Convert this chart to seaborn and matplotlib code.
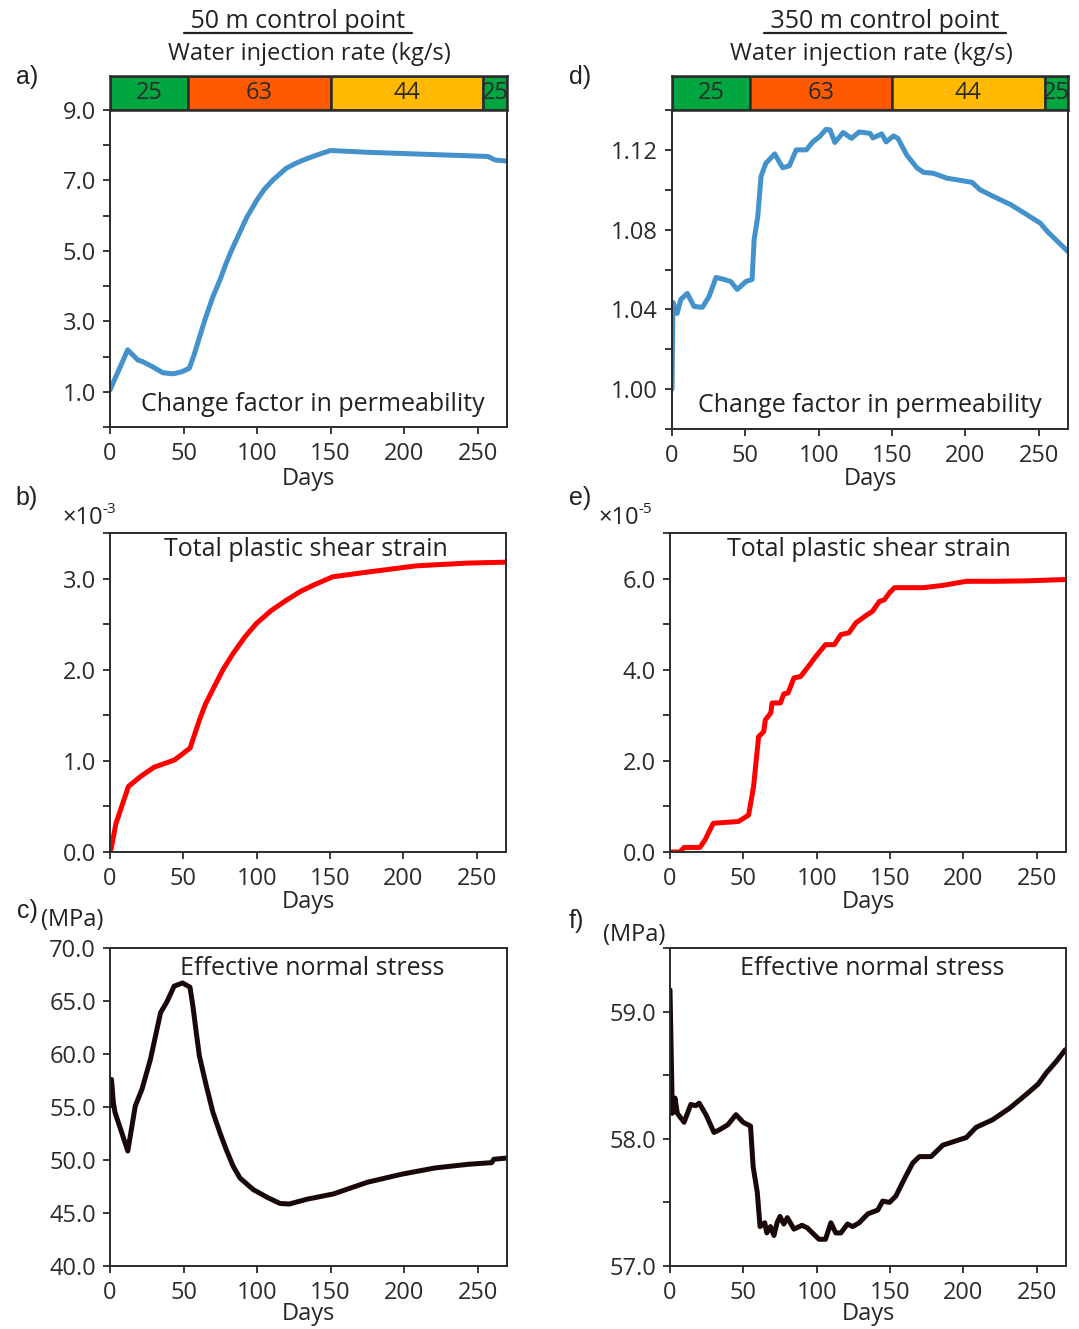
import matplotlib
matplotlib.use("Agg")
import matplotlib.pyplot as plt
import seaborn as sns
from matplotlib.lines import Line2D
from matplotlib.ticker import FixedLocator, FormatStrFormatter

# ---------------------------------------------------------------- data
# injection schedule (days) and rate (kg/s)
seg_start = [0, 53, 150, 254]
seg_end = [53, 150, 254, 270]
seg_rate = [25, 63, 44, 25]
seg_color = ["#00a640", "#ff5a00", "#ffb900", "#00a640"]

# 50 m control point
days_a = [0, 2.5, 7, 12, 19, 22, 29, 36, 43, 49, 54, 57.5, 61, 65, 70, 75, 79, 83,
          88, 93, 100, 105, 111, 120, 127, 134, 142, 150, 175, 209, 244, 257, 262, 270]
perm_a = [1.05, 1.29, 1.71, 2.19, 1.90, 1.86, 1.71, 1.54, 1.51, 1.57, 1.67, 2.09,
          2.57, 3.10, 3.70, 4.20, 4.65, 5.05, 5.50, 5.95, 6.45, 6.75, 7.02, 7.35,
          7.50, 7.62, 7.74, 7.85, 7.80, 7.75, 7.70, 7.68, 7.58, 7.55]

days_b = [0, 1, 4, 12.6, 21, 30, 44, 54.6, 61, 65, 70, 77, 84, 92, 100, 110, 120, 130,
          139, 152, 175, 209, 244, 270]
strain_b = [0.0, 0.05, 0.31, 0.72, 0.83, 0.93, 1.01, 1.14, 1.45, 1.62, 1.78, 2.00,
            2.18, 2.36, 2.51, 2.65, 2.76, 2.86, 2.93, 3.02, 3.07, 3.14, 3.17, 3.18]  # x 1e-3

days_c = [0, 1, 2.3, 3.4, 12.1, 17.2, 21.8, 27.5, 34.4, 39, 43.6, 49.4, 54.4, 56.4,
          58.7, 60.8, 65.5, 70, 74.7, 79, 83.8, 88.4, 97.5, 106.6, 115.6, 122, 134,
          152, 175, 198, 221, 244, 259.6, 261, 271]
stress_c = [55.1, 57.6, 55.4, 54.5, 50.85, 55.1, 56.7, 59.5, 63.9, 65.0, 66.4, 66.7,
            66.3, 64.5, 62.0, 59.8, 57.0, 54.5, 52.6, 51.0, 49.4, 48.3, 47.2, 46.5,
            45.9, 45.85, 46.3, 46.8, 47.9, 48.65, 49.25, 49.6, 49.75, 50.07, 50.2]  # MPa

# 350 m control point
days_d = [0, 0.7, 3.5, 6, 10.4, 15, 20.7, 25.3, 30, 35.6, 40, 44.5, 50.4, 54.6, 56,
          58.5, 60.7, 64, 70, 75.5, 80, 84.7, 91.6, 96, 100.7, 105, 107.8, 111, 116.7,
          122.4, 127.6, 135, 137, 143, 146, 151, 154, 160, 167, 171.5, 178, 187.5,
          196.6, 204.6, 210, 219, 231, 242, 251, 256, 263, 270]
perm_d = [1.000, 1.0435, 1.038, 1.045, 1.048, 1.0415, 1.041, 1.0465, 1.056, 1.055,
          1.054, 1.050, 1.054, 1.055, 1.075, 1.0867, 1.1067, 1.1133, 1.118, 1.111,
          1.112, 1.120, 1.120, 1.124, 1.1267, 1.1303, 1.130, 1.1237, 1.1287, 1.1258,
          1.129, 1.1283, 1.126, 1.128, 1.124, 1.127, 1.1258, 1.1175, 1.111, 1.1087,
          1.1083, 1.1058, 1.1047, 1.1037, 1.100, 1.0967, 1.0925, 1.0875, 1.0833,
          1.079, 1.074, 1.069]

days_e = [0, 6.7, 9.6, 20.4, 23.8, 29.5, 46.7, 53.6, 57, 60.4, 63.9, 65, 68.7, 69.6,
          75.3, 77.6, 80.5, 84.5, 89, 93.6, 99.4, 106, 112, 116.5, 122, 126.8, 133.7,
          138, 142.8, 146, 149.7, 153, 172.6, 186, 202, 220.7, 243.6, 270]
strain_e = [0.0, 0.0, 0.10, 0.10, 0.26, 0.63, 0.67, 0.81, 1.44, 2.53, 2.64, 2.90,
            3.05, 3.27, 3.27, 3.47, 3.49, 3.82, 3.85, 4.04, 4.29, 4.55, 4.55, 4.77,
            4.81, 5.03, 5.19, 5.28, 5.50, 5.53, 5.69, 5.80, 5.80, 5.85, 5.94, 5.94,
            5.95, 5.98]   # x 1e-5

days_f = [0, 1.6, 3.4, 5, 9.6, 14.2, 17.5, 19.9, 24.5, 30, 33.6, 39.4, 45, 49.8, 54.9,
          56.7, 59.5, 61.4, 64.6, 66, 68.5, 70.9, 73, 75, 77.6, 80, 84.5, 90, 93.6, 98,
          101.6, 106, 109.7, 113, 116.5, 121, 124.5, 129, 134.9, 141.7, 145, 149.7,
          154, 159.6, 165.5, 170, 178, 186, 194, 202, 208.7, 220, 231.5, 243, 251,
          256.7, 263.5, 269.5]
stress_f = [59.17, 58.20, 58.32, 58.20, 58.13, 58.27, 58.26, 58.28, 58.19, 58.05,
            58.07, 58.11, 58.19, 58.13, 58.10, 57.78, 57.58, 57.31, 57.34, 57.26,
            57.31, 57.24, 57.34, 57.39, 57.33, 57.38, 57.29, 57.32, 57.30, 57.25,
            57.21, 57.21, 57.34, 57.26, 57.26, 57.33, 57.31, 57.34, 57.41, 57.44,
            57.51, 57.50, 57.55, 57.68, 57.81, 57.86, 57.86, 57.95, 57.98, 58.01,
            58.09, 58.15, 58.24, 58.35, 58.43, 58.52, 58.61, 58.70]   # MPa

x_ticks = [0, 50, 100, 150, 200, 250]

# ---------------------------------------------------------------- style
sns.set_style("ticks")
plt.rcParams["font.family"] = ["Open Sans", "DejaVu Sans"]
plt.rcParams["axes.edgecolor"] = "#2b2b2b"
plt.rcParams["axes.linewidth"] = 1.4
plt.rcParams["xtick.color"] = "#2b2b2b"
plt.rcParams["ytick.color"] = "#2b2b2b"
plt.rcParams["text.color"] = "#222222"

FS = 17
W, H, DPI = 1079, 1329, 100
fig = plt.figure(figsize=(W / DPI, H / DPI), dpi=DPI)
fig.patch.set_facecolor("white")


def add_axes_px(left, top, right, bottom):
    return fig.add_axes([left / W, 1 - bottom / H, (right - left) / W, (bottom - top) / H])


def style_axes(ax, ylim, major, minor, fmt, xpad):
    ax.set_xlim(0, 270)
    ax.set_ylim(*ylim)
    ax.set_xticks(x_ticks)
    ax.yaxis.set_major_locator(FixedLocator(major))
    ax.yaxis.set_minor_locator(FixedLocator(minor))
    ax.yaxis.set_major_formatter(FormatStrFormatter(fmt))
    ax.tick_params(which="both", direction="out", length=5, width=1.3, labelsize=FS)
    ax.tick_params(axis="x", pad=6)
    ax.tick_params(axis="y", pad=5)
    ax.set_xlabel("Days", fontsize=FS, labelpad=xpad)
    ax.set_ylabel("")
    for s in ax.spines.values():
        s.set_visible(True)
        s.set_color("#2b2b2b")


def draw_schedule(ax_main, left, right):
    pos = ax_main.get_position()
    ax = add_axes_px(left, 76, right, (1 - pos.y1) * H)
    widths = [e - s for s, e in zip(seg_start, seg_end)]
    ax.barh([0] * len(seg_rate), widths, left=seg_start, height=1.0,
            color=seg_color, edgecolor="#2b2b2b", linewidth=1.8)
    for s, e, r in zip(seg_start, seg_end, seg_rate):
        ax.text((s + e) / 2, 0, str(r), ha="center", va="center",
                fontsize=FS, color="#2b2b2b", clip_on=True)
    ax.set_xlim(0, 270)
    ax.set_ylim(-0.5, 0.5)
    ax.set_xticks([])
    ax.set_yticks([])
    for s in ax.spines.values():
        s.set_linewidth(1.8)
        s.set_color("#2b2b2b")
    return ax


BLUE, RED, DARK = "#4392cb", "#ff0000", "#1a0808"
LW = 3.6

# ---------------------------------------------------------------- a)
ax_a = add_axes_px(110, 110, 507, 427)
sns.lineplot(x=days_a, y=perm_a, ax=ax_a, color=BLUE, linewidth=LW, sort=False)
style_axes(ax_a, (0, 9), [1, 3, 5, 7, 9], [0, 2, 4, 6, 8], "%.1f", 0.5)
ax_a.text(0.51, 0.07, "Change factor in permeability", transform=ax_a.transAxes,
          ha="center", va="center", fontsize=FS + 1)
draw_schedule(ax_a, 110, 507)

# ---------------------------------------------------------------- d)
ax_d = add_axes_px(672, 110, 1068, 429)
sns.lineplot(x=days_d, y=perm_d, ax=ax_d, color=BLUE, linewidth=LW, sort=False)
style_axes(ax_d, (0.98, 1.14), [1.00, 1.04, 1.08, 1.12],
           [0.98, 1.02, 1.06, 1.10, 1.14], "%.2f", -1)
ax_d.text(0.50, 0.075, "Change factor in permeability", transform=ax_d.transAxes,
          ha="center", va="center", fontsize=FS + 1)
draw_schedule(ax_d, 672, 1068)

# ---------------------------------------------------------------- b)
ax_b = add_axes_px(110, 533, 506, 852)
sns.lineplot(x=days_b, y=strain_b, ax=ax_b, color=RED, linewidth=LW, sort=False)
style_axes(ax_b, (0, 3.5), [0, 1, 2, 3], [0.5, 1.5, 2.5, 3.5], "%.1f", -1)
ax_b.text(0.495, 0.947, "Total plastic shear strain", transform=ax_b.transAxes,
          ha="center", va="center", fontsize=FS + 1)

# ---------------------------------------------------------------- e)
ax_e = add_axes_px(670, 533, 1066, 852)
sns.lineplot(x=days_e, y=strain_e, ax=ax_e, color=RED, linewidth=LW, sort=False)
style_axes(ax_e, (0, 7), [0, 2, 4, 6], [1, 3, 5, 7], "%.1f", -1)
ax_e.text(0.503, 0.947, "Total plastic shear strain", transform=ax_e.transAxes,
          ha="center", va="center", fontsize=FS + 1)

# ---------------------------------------------------------------- c)
ax_c = add_axes_px(110, 948, 507, 1266)
sns.lineplot(x=days_c, y=stress_c, ax=ax_c, color=DARK, linewidth=LW, sort=False)
style_axes(ax_c, (40, 70), [40, 45, 50, 55, 60, 65, 70], [], "%.1f", -2)
ax_c.text(0.51, 0.937, "Effective normal stress", transform=ax_c.transAxes,
          ha="center", va="center", fontsize=FS + 1)

# ---------------------------------------------------------------- f)
ax_f = add_axes_px(670, 948, 1066, 1266)
sns.lineplot(x=days_f, y=stress_f, ax=ax_f, color=DARK, linewidth=LW, sort=False)
style_axes(ax_f, (57, 59.5), [57, 58, 59], [57.5, 58.5, 59.5], "%.1f", -2)
ax_f.text(0.51, 0.937, "Effective normal stress", transform=ax_f.transAxes,
          ha="center", va="center", fontsize=FS + 1)

# ---------------------------------------------------------------- annotations
def fig_text(x, y, s, **kw):
    return fig.text(x / W, 1 - y / H, s, **kw)


hdr_l = fig_text(298, 21, " 50 m control point ", ha="center", va="center", fontsize=FS + 1)
hdr_r = fig_text(885, 21, " 350 m control point ", ha="center", va="center", fontsize=FS + 1)
fig_text(309, 54, "Water injection rate (kg/s)", ha="center", va="center", fontsize=FS)
fig_text(871, 54, "Water injection rate (kg/s)", ha="center", va="center", fontsize=FS)

lab_font = ["Liberation Sans", "DejaVu Sans"]
for lx, ly, lab in [(27, 77, "a)"), (27, 498, "b)"), (27, 911, "c)"),
                    (580, 77, "d)"), (580, 498, "e)"), (576, 921, "f)")]:
    fig_text(lx, ly, lab, ha="center", va="center", fontsize=FS + 1, family=lab_font)

# scale factors for the strain panels
for x0, exp, ax in [(62, "-3", ax_b), (598, "-5", ax_e)]:
    base = fig_text(x0, 518, "\u00d710", ha="left", va="center", fontsize=FS)
    ax.annotate(exp, xy=(1.0, 0.55), xycoords=base, fontsize=FS - 6,
                ha="left", va="bottom", annotation_clip=False)

fig_text(72, 920, "(MPa)", ha="center", va="center", fontsize=FS)
fig_text(634, 935, "(MPa)", ha="center", va="center", fontsize=FS)

# underline the column headers
fig.canvas.draw()
renderer = fig.canvas.get_renderer()
for t in (hdr_l, hdr_r):
    bb = t.get_window_extent(renderer)
    yl = bb.y0 + 1
    fig.add_artist(Line2D([bb.x0 / W, bb.x1 / W], [yl / H, yl / H],
                          transform=fig.transFigure, color="#222222", linewidth=1.6))

fig.savefig("out.png", dpi=DPI, facecolor="white")
